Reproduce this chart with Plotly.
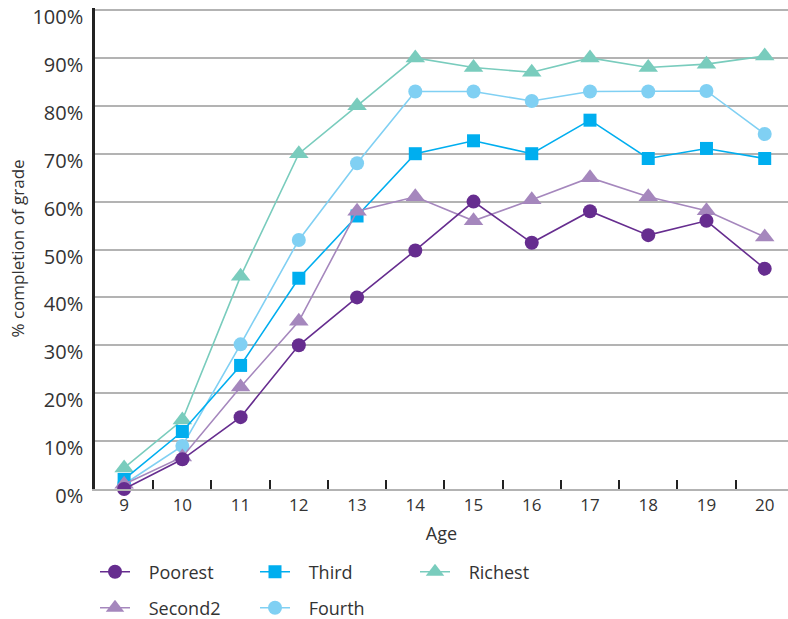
import plotly.graph_objects as go

ages = ["9", "10", "11", "12", "13", "14", "15", "16", "17", "18", "19", "20"]
poorest = [0, 6.2, 15, 30, 40, 49.8, 60, 51.4, 58, 53, 56, 46]
second2 = [1, 6.7, 21.3, 35, 58, 61, 56, 60.4, 65, 61, 58.1, 52.6]
third = [2, 12, 25.8, 44, 57, 70, 72.7, 70, 77, 69, 71.1, 69]
fourth = [1, 9, 30.2, 52, 68, 83, 83, 81, 83, 83, 83.1, 74.1]
richest = [4.4, 14.4, 44.4, 70, 80, 90, 88, 87, 90, 88, 88.7, 90.4]
y_ticks = [0, 10, 20, 30, 40, 50, 60, 70, 80, 90, 100]
y_labels = [f"{v}%" for v in y_ticks]

series = [
    # name, values, color, symbol, size, legend, rank
    ("Richest", richest, "#79ccbd", "triangle-up", 17, "legend", 3),
    ("Fourth", fourth, "#80d0f3", "circle", 14, "legend2", 5),
    ("Third", third, "#00aeef", "square", 13, "legend", 2),
    ("Second2", second2, "#a587bd", "triangle-up", 17, "legend2", 4),
    ("Poorest", poorest, "#662d8f", "circle", 14, "legend", 1),
]

fig = go.Figure()
for name, vals, color, sym, size, leg, rank in series:
    fig.add_trace(go.Scatter(
        x=ages, y=vals, name="\u2002\u00a0" + name, mode="lines+markers",
        line=dict(color=color, width=1.6),
        marker=dict(color=color, symbol=sym, size=size),
        legend=leg, legendrank=rank, cliponaxis=False,
    ))

W, H = 788, 619
font_family = "Open Sans, sans-serif"
leg_common = dict(orientation="h", xref="paper", x=0, xanchor="left", yref="container",
                  yanchor="middle", entrywidth=115, font=dict(size=18, color="#333333"),
                  traceorder="normal", bgcolor="rgba(0,0,0,0)")
fig.update_layout(
    width=W, height=H,
    margin=dict(l=95, r=0, t=8, b=130, pad=0),
    plot_bgcolor="white", paper_bgcolor="white",
    font=dict(family=font_family, color="#333333"),
    legend=dict(y=1 - 572 / H, **leg_common),
    legend2=dict(y=1 - 608 / H, **leg_common),
)
fig.update_xaxes(
    type="category", range=[-0.5, 11.4], automargin=False,
    tickson="boundaries", ticks="inside", ticklen=9, tickwidth=2, tickcolor="#222222",
    showgrid=False, showline=True, linecolor="#b3b3b3", linewidth=2,
    tickfont=dict(size=17, color="#333333"), ticklabeloverflow="allow",
    title=dict(text="Age", font=dict(size=18, color="#333333"), standoff=12),
)
fig.update_yaxes(
    range=[0, 100.42], tickvals=y_ticks, ticktext=y_labels, automargin=False,
    showgrid=True, gridcolor="#b3b3b3", gridwidth=2,
    showline=True, linecolor="#222222", linewidth=2.5,
    zeroline=False, ticks="", ticklabelstandoff=5, ticklabelshift=7,
    ticklabeloverflow="allow",
    tickfont=dict(size=20, color="#333333"),
    title=dict(text="% completion of grade", font=dict(size=17, color="#333333"), standoff=4),
)
fig.write_html("out.html", config={"displayModeBar": False},
               post_script="document.body.style.margin='0';")
